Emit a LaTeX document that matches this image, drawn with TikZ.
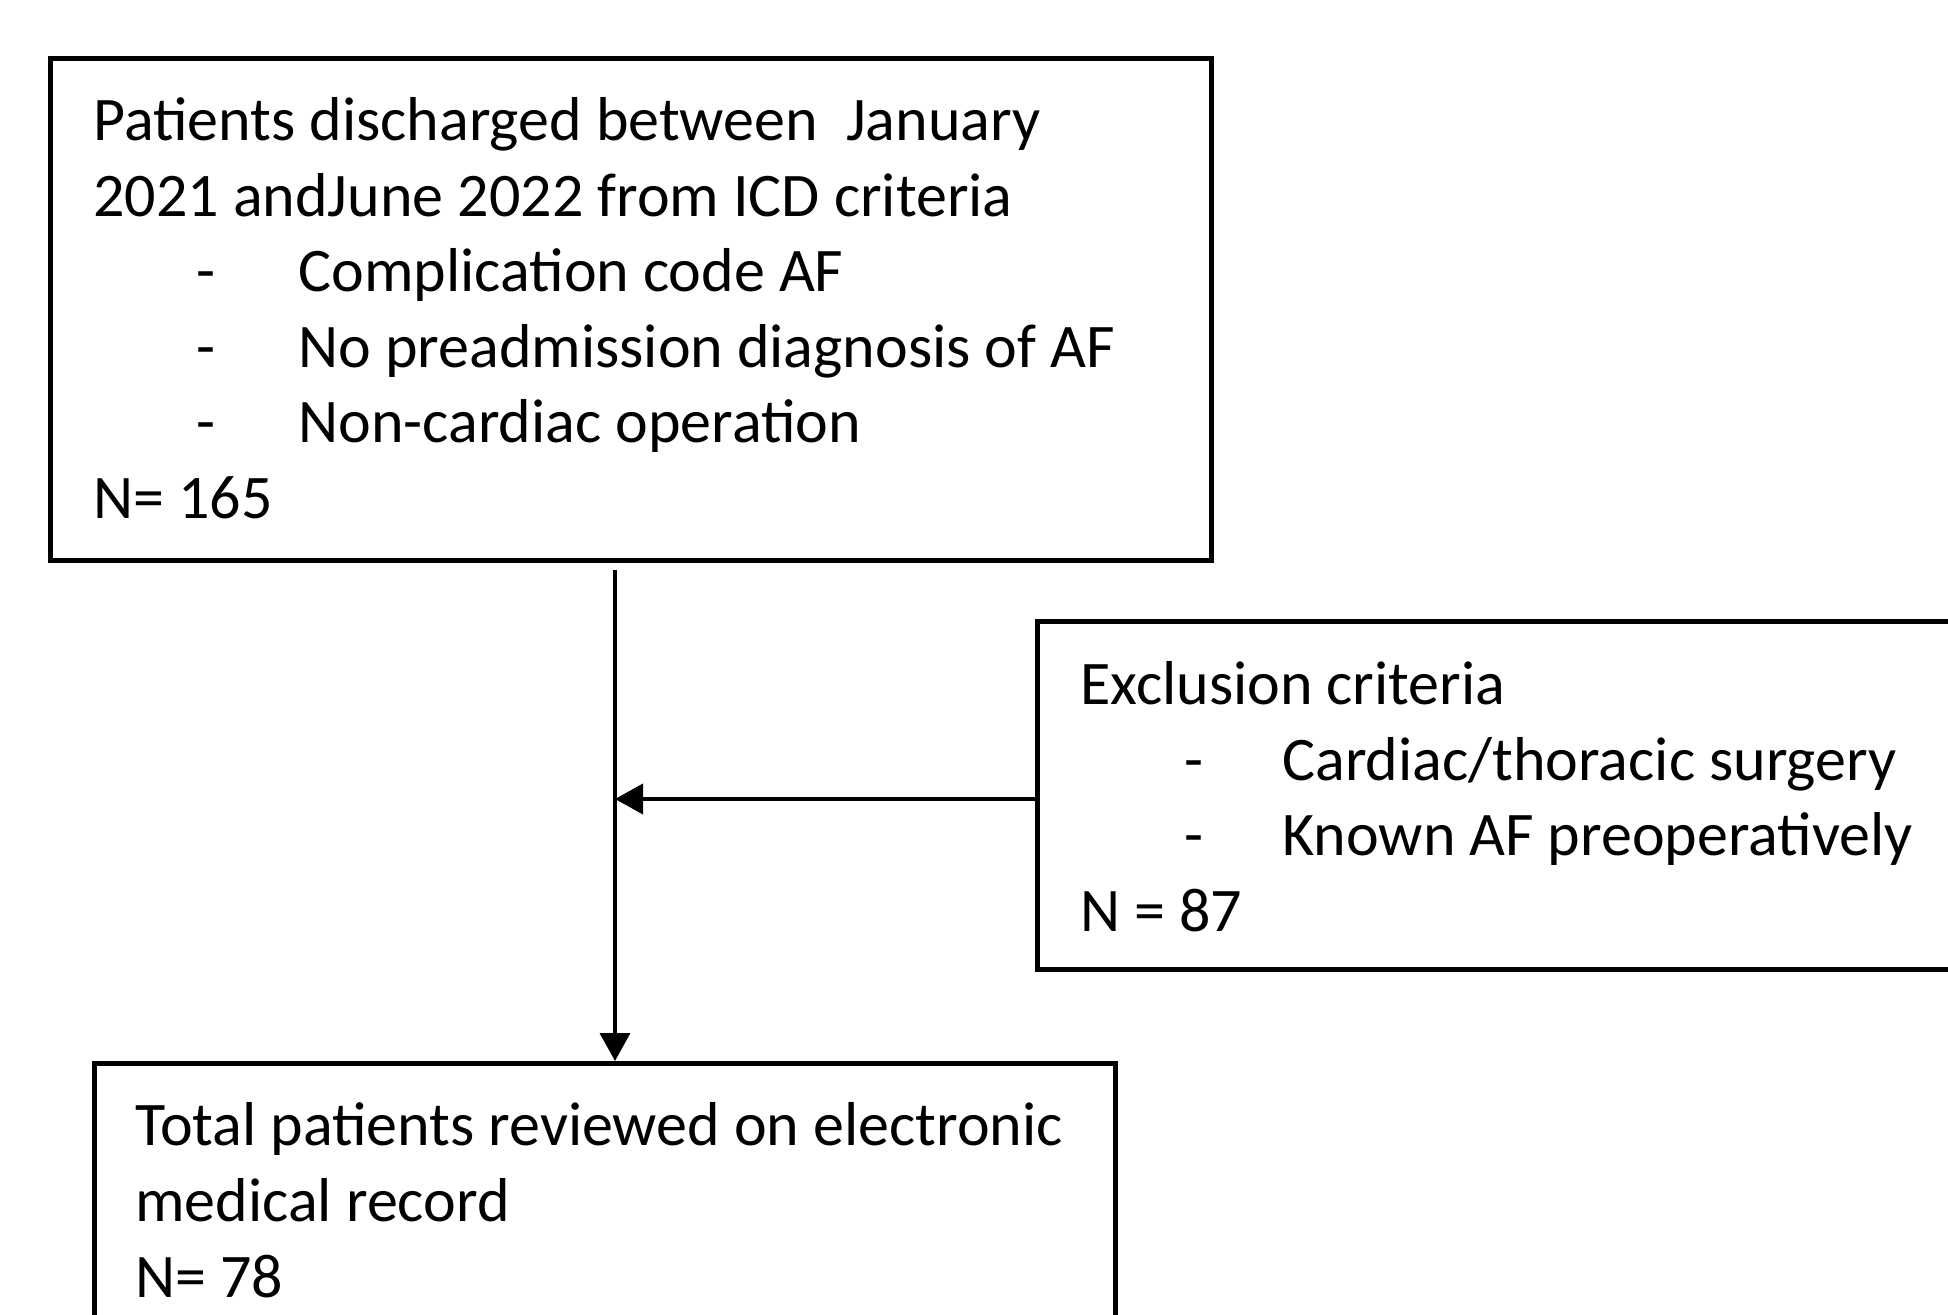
\documentclass[tikz,border=0pt]{standalone}
\usepackage{fontspec}
\setmainfont{Carlito}
\usetikzlibrary{arrows.meta}
\tikzset{
  box/.style={draw, line width=2.5pt, anchor=north west, inner sep=0pt},
  txt/.style={anchor=base west, inner sep=0pt, font=\fontsize{31}{36}\selectfont},
  arr/.style={line width=1.9pt, -{Triangle[length=14pt,width=15pt]}},
}
\begin{document}
\begin{tikzpicture}[x=0.5pt,y=-0.5pt]
\useasboundingbox (0,0) rectangle (1948,1315);
\clip (0,0) rectangle (1948,1315);
% boxes
\node[box, minimum width=580.5pt, minimum height=251pt] (top) at (48,56) {};
\node[box, minimum width=520pt, minimum height=174pt] (excl) at (1035,619) {};
\node[box, minimum width=510.5pt, minimum height=220pt] (bot) at (92,1061) {};
% top text
\node[txt] (t1) at (93,141) {Patients discharged between\ \ January};
\node[txt] (t2) at (93,217) {2021 andJune 2022 from ICD criteria};
\node[txt] (t3d) at (196,292) {-};
\node[txt] (t3) at (298,292) {Complication code AF};
\node[txt] (t4d) at (196,368) {-};
\node[txt] (t4) at (298,368) {No preadmission diagnosis of AF};
\node[txt] (t5d) at (196,443) {-};
\node[txt] (t5) at (298,443) {Non-cardiac operation};
\node[txt] (t6) at (93,519) {N= 165};
% exclusion text
\node[txt] (e1) at (1080,704) {Exclusion criteria};
\node[txt] (e2d) at (1184,780) {-};
\node[txt] (e2) at (1282,780) {Cardiac/thoracic surgery};
\node[txt] (e3d) at (1184,855) {-};
\node[txt] (e3) at (1282,855) {Known AF preoperatively};
\node[txt] (e4) at (1080,931) {N = 87};
% bottom text
\node[txt] (b1) at (135,1145) {Total patients reviewed on electronic};
\node[txt] (b2) at (135,1221) {medical record};
\node[txt] (b3) at (135,1297) {N= 78};
% connectors
\coordinate (vx) at (615,0);
\coordinate (j) at (615,799);
\draw[arr, shorten <=3.5pt] (top.south -| vx) -- (bot.north -| vx);
\draw[arr] (excl.west |- j) -- (j);
\end{tikzpicture}
\end{document}
